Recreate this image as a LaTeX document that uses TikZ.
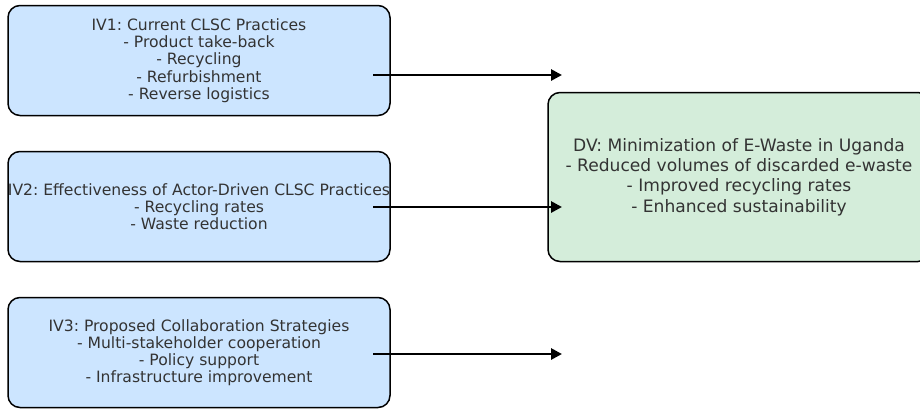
\documentclass[tikz,border=0pt]{standalone}
\usepackage{fontspec}
\setmainfont{DejaVu Sans}
\usetikzlibrary{arrows.meta,positioning}
\definecolor{ivblue}{HTML}{CCE5FF}
\definecolor{dvgreen}{HTML}{D4EDDA}
\definecolor{txtgray}{HTML}{333333}
\frenchspacing

\begin{document}
\begin{tikzpicture}[
      ivbox/.style = {rectangle, rounded corners=12pt, draw=black, line width=1.5pt,
                      fill=ivblue, minimum width=382pt, minimum height=110pt,
                      inner sep=0pt, outer sep=0pt, align=center, text=txtgray,
                      font=\fontsize{15.6}{17.2}\selectfont},
      dvbox/.style = {ivbox, fill=dvgreen, minimum height=169pt,
                      font=\fontsize{17.1}{20.3}\selectfont},
      arrow/.style = {-{Triangle[length=11pt,width=11pt]}, line width=2.8pt, black}
    ]
    \useasboundingbox (0,0) rectangle (920pt,-408pt);

    \node[ivbox] (iv1) at (199pt,-60.5pt)
      {IV1: Current CLSC Practices\\- Product take-back\\- Recycling\\- Refurbishment\\- Reverse logistics};
    \node[ivbox, below=36pt of iv1] (iv2)
      {\makebox[0pt]{IV2: Effectiveness of Actor-Driven CLSC Practices}\\- Recycling rates\\- Waste reduction};
    \node[ivbox, below=36pt of iv2] (iv3)
      {IV3: Proposed Collaboration Strategies\\- Multi-stakeholder cooperation\\- Policy support\\- Infrastructure improvement};

    \node[dvbox, right=158pt of iv2.south east, anchor=south west] (dv)
      {DV: Minimization of E-Waste in Uganda\\- Reduced volumes of discarded e-waste\\- Improved recycling rates\\- Enhanced sustainability};

    \coordinate (t1) at (562pt,-75pt);
    \coordinate (t2) at (562pt,-207pt);
    \coordinate (t3) at (562pt,-354pt);

    \draw[arrow] ([xshift=-17pt,yshift=-14.5pt]iv1.east) -- (t1);
    \draw[arrow] ([xshift=-17pt,yshift=-0.5pt]iv2.east) -- (t2);
    \draw[arrow] ([xshift=-17pt,yshift=-1.5pt]iv3.east) -- (t3);
  \end{tikzpicture}
\end{document}
